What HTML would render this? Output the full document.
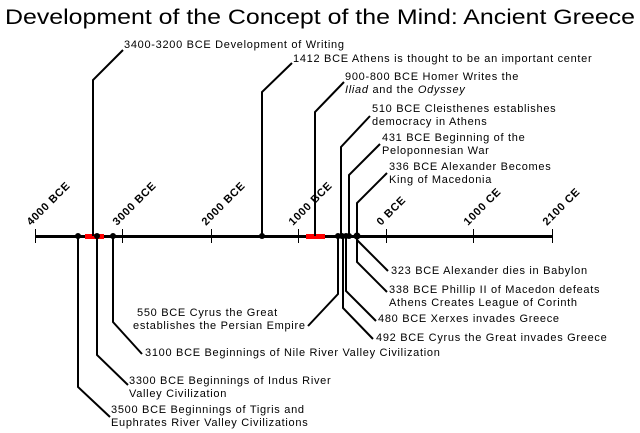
<!DOCTYPE html>
<html><head><meta charset="utf-8"><style>
html,body{margin:0;padding:0;background:#fff;}
svg{display:block;}
text{font-family:"Liberation Sans",sans-serif;font-size:11px;fill:#000;letter-spacing:0.7px;}
.t{font-size:21px;letter-spacing:0;}
.ax{font-size:10px;font-weight:bold;}
</style></head><body>
<svg width="640" height="433" viewBox="0 0 640 433" xmlns="http://www.w3.org/2000/svg">
<text class="t" x="5" y="24" textLength="630" lengthAdjust="spacingAndGlyphs">Development of the Concept of the Mind: Ancient Greece</text>
<g stroke="#000" stroke-width="1" fill="none">
<line x1="35.5" y1="229" x2="35.5" y2="243"/>
<line x1="122.5" y1="229" x2="122.5" y2="243"/>
<line x1="211.5" y1="229" x2="211.5" y2="243"/>
<line x1="298.5" y1="229" x2="298.5" y2="243"/>
<line x1="386.5" y1="229" x2="386.5" y2="243"/>
<line x1="473.5" y1="229" x2="473.5" y2="243"/>
<line x1="552.5" y1="229" x2="552.5" y2="243"/>
</g>
<line x1="35" y1="236.5" x2="553" y2="236.5" stroke="#000" stroke-width="3"/>
<rect x="85" y="234" width="19" height="5" fill="#f00"/>
<rect x="306" y="234" width="19" height="5" fill="#f00"/>
<g stroke="#000" stroke-width="2" fill="none">
<polyline points="93,236 93,80 123,50"/>
<polyline points="262,236 262,92 292,63"/>
<polyline points="315,236 315,112 344,82"/>
<polyline points="341,236 341,147 370,116"/>
<polyline points="349,236 349,175 380,144"/>
<polyline points="357,236 357,203 387,173"/>
<polyline points="357,240 388,271"/>
<polyline points="357,236 357,262 387,292"/>
<polyline points="346,236 346,291 376,321"/>
<polyline points="343,236 343,308 373,339"/>
<polyline points="338,236 338,294 308,326"/>
<polyline points="113,236 113,322 142,354"/>
<polyline points="97,236 97,355 128,385"/>
<polyline points="78,236 78,387 110,417"/>
</g>
<g fill="#000">
<circle cx="78" cy="236" r="3"/><circle cx="97" cy="236" r="3"/><circle cx="113" cy="236" r="3"/>
<circle cx="262" cy="236" r="3"/><circle cx="338" cy="236" r="3"/><circle cx="342" cy="236" r="3"/>
<circle cx="346" cy="236" r="3"/><circle cx="349" cy="236" r="3"/><circle cx="357" cy="236" r="3.5"/>
</g>
<g class="ax">
<text transform="translate(31,226) rotate(-45)">4000 BCE</text>
<text transform="translate(117,226) rotate(-45)">3000 BCE</text>
<text transform="translate(206,226) rotate(-45)">2000 BCE</text>
<text transform="translate(293,226) rotate(-45)">1000 BCE</text>
<text transform="translate(381,226) rotate(-45)">0 BCE</text>
<text transform="translate(468,226) rotate(-45)">1000 CE</text>
<text transform="translate(547,226) rotate(-45)">2100 CE</text>
</g>
<text x="124" y="48">3400-3200 BCE Development of Writing</text>
<text x="293" y="62">1412 BCE Athens is thought to be an important center</text>
<text x="345" y="80">900-800 BCE Homer Writes the</text>
<text x="345" y="93"><tspan font-style="italic">Iliad</tspan> and the <tspan font-style="italic">Odyssey</tspan></text>
<text x="372" y="112">510 BCE Cleisthenes establishes</text>
<text x="372" y="125">democracy in Athens</text>
<text x="382" y="141">431 BCE Beginning of the</text>
<text x="382" y="154">Peloponnesian War</text>
<text x="389" y="170">336 BCE Alexander Becomes</text>
<text x="389" y="183">King of Macedonia</text>
<text x="391" y="274">323 BCE Alexander dies in Babylon</text>
<text x="389" y="293">338 BCE Phillip II of Macedon defeats</text>
<text x="389" y="306">Athens Creates League of Corinth</text>
<text x="378" y="322">480 BCE Xerxes invades Greece</text>
<text x="376" y="341">492 BCE Cyrus the Great invades Greece</text>
<text x="137" y="316">550 BCE Cyrus the Great</text>
<text x="133" y="329">establishes the Persian Empire</text>
<text x="145" y="356">3100 BCE Beginnings of Nile River Valley Civilization</text>
<text x="129" y="384">3300 BCE Beginnings of Indus River</text>
<text x="129" y="397">Valley Civilization</text>
<text x="111" y="413">3500 BCE Beginnings of Tigris and</text>
<text x="111" y="426">Euphrates River Valley Civilizations</text>
</svg>
</body></html>
